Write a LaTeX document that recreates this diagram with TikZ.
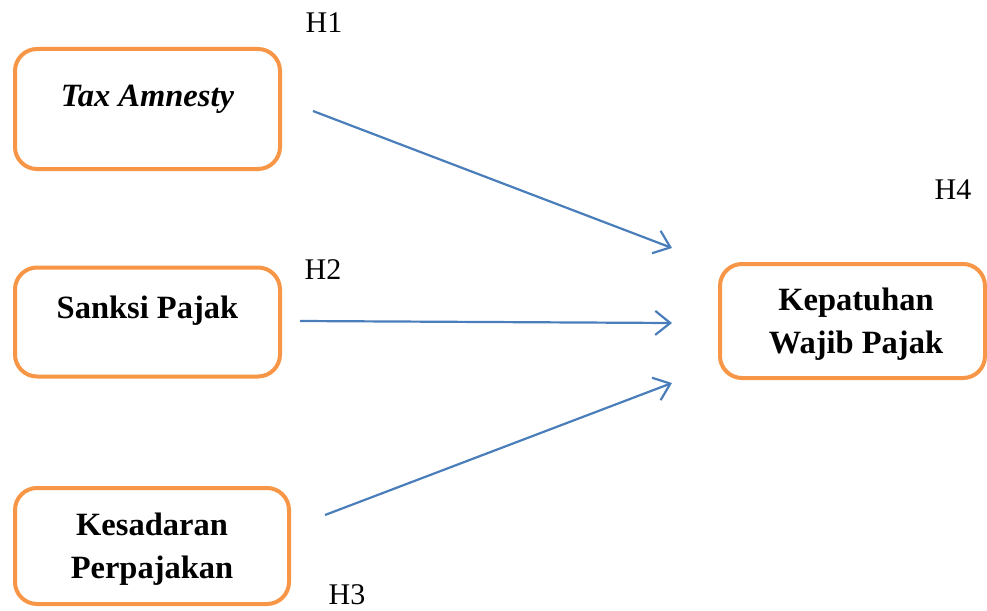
\documentclass[tikz,border=0pt]{standalone}
\usepackage{fontspec}
\setmainfont{Liberation Serif}
\usetikzlibrary{arrows.meta}
\definecolor{boxorange}{HTML}{F79646}
\definecolor{arrowblue}{HTML}{4A7EBB}
\begin{document}
\begin{tikzpicture}[x=1pt,y=-1pt,
  varbox/.style={draw=boxorange,line width=4pt,rounded corners=22pt,fill=white,inner sep=0pt},
  boxtext/.style={font=\fontsize{32.5}{43}\selectfont\bfseries,align=center,inner sep=0pt},
  hlabel/.style={font=\fontsize{30}{36}\selectfont,inner sep=0pt},
  link/.style={draw=arrowblue,line width=2.2pt,-{Straight Barb[length=15pt,width=24pt,line width=2.2pt]}}]
\useasboundingbox (0,0) rectangle (987,610);
% boxes
\node[varbox,minimum width=265pt,minimum height=120pt] (ta) at (147.5,109) {};
\node[varbox,minimum width=265pt,minimum height=109pt] (sp) at (147.5,322) {};
\node[varbox,minimum width=274pt,minimum height=116pt] (kp) at (152,546) {};
\node[varbox,minimum width=265pt,minimum height=114pt] (kwp) at (852.5,321) {};
% texts
\node[boxtext,font=\fontsize{32.5}{43}\selectfont\bfseries\itshape] (tat) at (147.5,99) {Tax Amnesty};
\node[boxtext] (spt) at (147.5,311) {Sanksi Pajak};
\node[boxtext] (kpt) at (152,549) {Kesadaran\\Perpajakan};
\node[boxtext] (kwpt) at (856,324) {Kepatuhan\\Wajib Pajak};
% hypothesis labels
\node[hlabel] (h1) at (324,23) {H1};
\node[hlabel] (h2) at (323,270) {H2};
\node[hlabel] (h3) at (347,595) {H3};
\node[hlabel] (h4) at (953,190) {H4};
% arrow end points
\coordinate (a1s) at (313,111);
\coordinate (a1e) at (672,248);
\coordinate (a2s) at (300,321);
\coordinate (a2e) at (672,323);
\coordinate (a3s) at (325,515);
\coordinate (a3e) at (672,383);
\draw[link] (a1s) -- (a1e);
\draw[link] (a2s) -- (a2e);
\draw[link] (a3s) -- (a3e);
\end{tikzpicture}
\end{document}
